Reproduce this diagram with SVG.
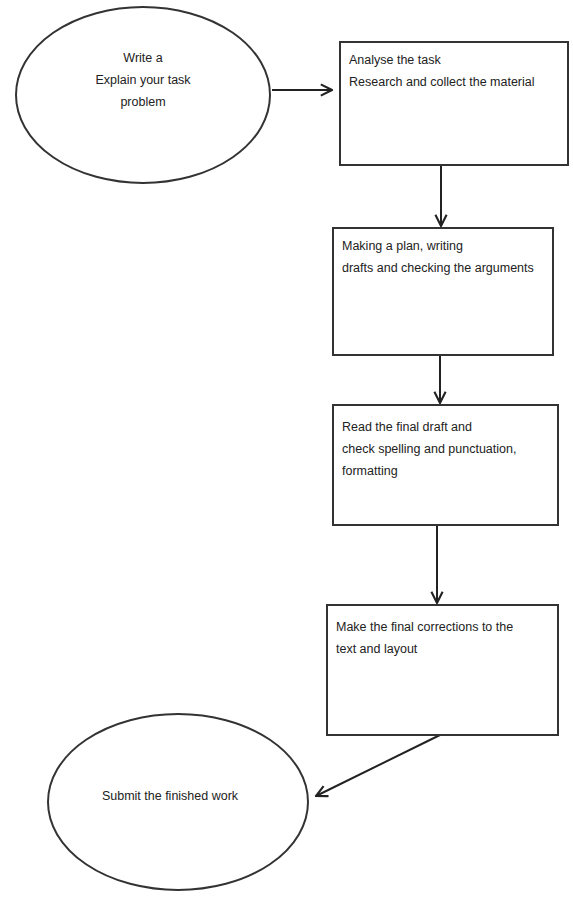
<svg xmlns="http://www.w3.org/2000/svg" width="573" height="900" viewBox="0 0 573 900">
<defs>
<marker id="arr" viewBox="0 0 10 10" refX="9" refY="5" markerWidth="7" markerHeight="7" orient="auto">
<path d="M1,1 L9,5 L1,9" fill="none" stroke="#222" stroke-width="1.5"/>
</marker>
</defs>
<style>
.shape{fill:#fff;stroke:#333;stroke-width:2}
.t{font-family:"Liberation Sans",Arial,sans-serif;font-size:12.5px;fill:#222}
.c{text-anchor:middle}
.edge{fill:none;stroke:#222;stroke-width:2;marker-end:url(#arr)}
</style>
<rect width="573" height="900" fill="#fff"/>
<g id="connectors">
<line class="edge" x1="272" y1="90" x2="332" y2="90"/>
<line class="edge" x1="441" y1="165" x2="441" y2="226"/>
<line class="edge" x1="440" y1="355" x2="440" y2="403"/>
<line class="edge" x1="437" y1="525" x2="437" y2="603" stroke="#999"/>
<line class="edge" x1="440" y1="735" x2="316" y2="796"/>
</g>
<g id="start">
<ellipse class="shape" cx="143" cy="95" rx="127" ry="88"/>
<text class="t c" x="143" y="62">Write a</text>
<text class="t c" x="143" y="84">Explain your task</text>
<text class="t c" x="143" y="106">problem</text>
</g>
<g id="step1">
<rect class="shape" x="340" y="42" width="228" height="123"/>
<text class="t" x="349" y="64">Analyse the task</text>
<text class="t" x="349" y="86">Research and collect the material</text>
</g>
<g id="step2">
<rect class="shape" x="333" y="228" width="220" height="127"/>
<text class="t" x="342" y="250">Making a plan, writing</text>
<text class="t" x="342" y="272">drafts and checking the arguments</text>
</g>
<g id="step3">
<rect class="shape" x="333" y="405" width="225" height="120"/>
<text class="t" x="342" y="431">Read the final draft and</text>
<text class="t" x="342" y="453">check spelling and punctuation,</text>
<text class="t" x="342" y="475">formatting</text>
</g>
<g id="step4">
<rect class="shape" x="327" y="605" width="231" height="130"/>
<text class="t" x="336" y="631">Make the final corrections to the</text>
<text class="t" x="336" y="653">text and layout</text>
</g>
<g id="end">
<ellipse class="shape" cx="178" cy="802" rx="130" ry="88"/>
<text class="t c" x="170" y="800">Submit the finished work</text>
</g>
</svg>
